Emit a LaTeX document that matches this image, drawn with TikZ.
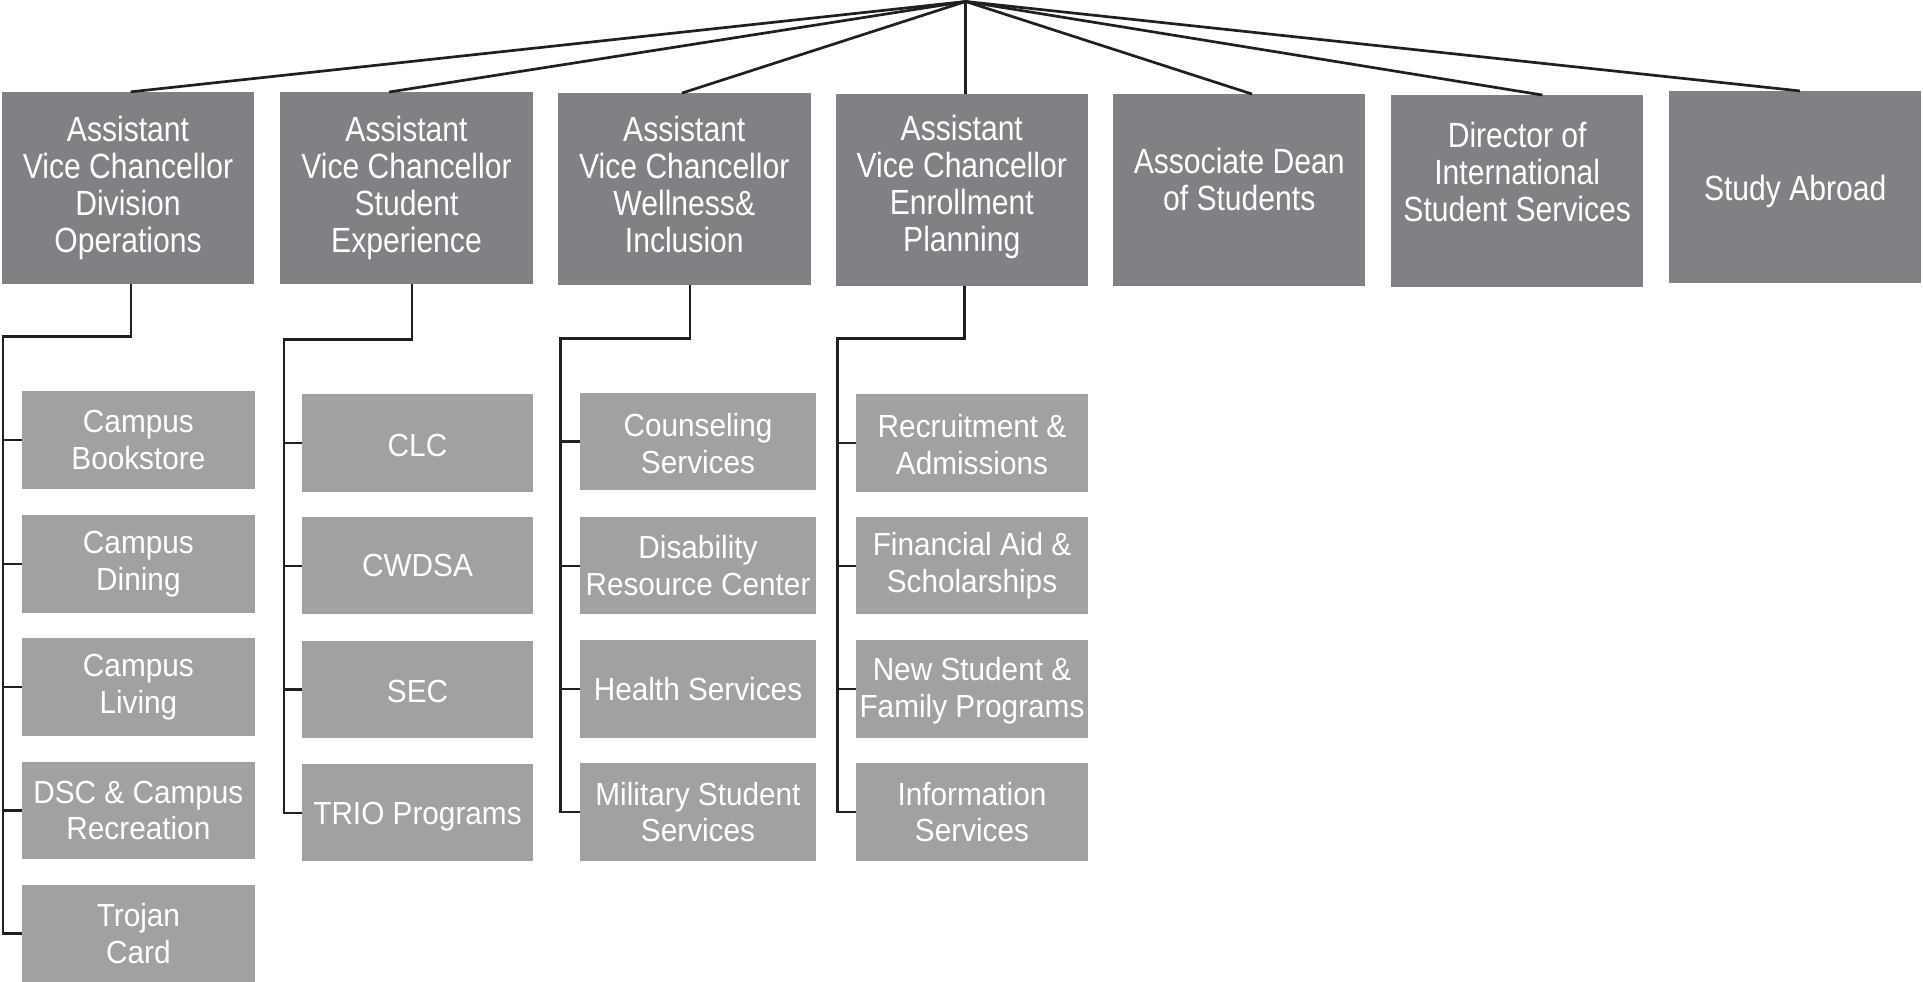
\documentclass[tikz,border=0pt]{standalone}
\usepackage{fontspec}
\newfontfamily\topfont[FakeStretch=0.86]{Liberation Sans}
\newfontfamily\subfont[FakeStretch=0.93]{Liberation Sans}
\definecolor{topgray}{RGB}{128,129,132}
\definecolor{subgray}{RGB}{161,161,163}
\definecolor{linecol}{RGB}{35,31,32}
\begin{document}
\begin{tikzpicture}[x=1pt,y=-1pt,
  topbox/.style={fill=topgray, text=white, inner sep=0pt, align=center,
    font=\topfont\fontsize{35}{37}\selectfont, minimum width=252.5pt, minimum height=191.5pt},
  subbox/.style={fill=subgray, text=white, inner sep=0pt, align=center,
    font=\subfont\fontsize{32}{36.7}\selectfont, minimum height=97.5pt},
  topline/.style={draw=linecol, line width=2.7pt},
  subline/.style={draw=linecol, line width=2.3pt}]
\useasboundingbox (0,0) rectangle (1923,982);

% top level
\coordinate (apex) at (965.7,1.5);
\node[topbox] (b1) at (128,187.8) {Assistant\\Vice Chancellor\\Division\\Operations};
\node[topbox] (b2) at (406.5,188) {Assistant\\Vice Chancellor\\Student\\Experience};
\node[topbox] (b3) at (684.3,189) {Assistant\\Vice Chancellor\\Wellness\&\\Inclusion\rule[-9pt]{0pt}{0pt}};
\node[topbox] (b4) at (961.8,190) {Assistant\\Vice Chancellor\\Enrollment\\Planning\rule[-12.5pt]{0pt}{0pt}};
\node[topbox] (b5) at (1239.2,190) {Associate Dean\\of Students\\[-16pt]\mbox{}};
\node[topbox] (b6) at (1517.2,191) {Director of\\International\\Student Services\\[2pt]\mbox{}};
\node[topbox] (b7) at (1795.2,186.9) {\rule{0pt}{35pt}Study Abroad};

\draw[topline] (apex) -- ([xshift=2.7pt]b1.north);
\draw[topline] (apex) -- ([xshift=-17.5pt]b2.north);
\draw[topline] (apex) -- ([xshift=-2.3pt]b3.north);
\draw[topline] (apex) -- ([xshift=3.9pt]b4.north);
\draw[topline] (apex) -- ([xshift=12.8pt]b5.north);
\draw[topline] (apex) -- ([xshift=25.3pt]b6.north);
\draw[topline] (apex) -- ([xshift=4.8pt]b7.north);

% column 1
\begin{scope}[every node/.style={subbox, minimum width=233pt}]
\node (c11) at (138.4,439.8) {Campus\\Bookstore};
\node (c12) at (138.4,563.8) {Campus\\Dining};
\node (c13) at (138.4,686.9) {Campus\\Living};
\node (c14) at (138.4,810.5) {DSC \& Campus\\Recreation};
\node (c15) at (138.4,933.4) {Trojan\\Card};
\end{scope}
\coordinate (bus1) at (3.1,336.4);
\draw[subline] ([xshift=2.9pt]b1.south) |- (bus1) -- (bus1 |- c15.west) -- (c15.west);
\foreach \c in {c11,c12,c13,c14} \draw[subline] (bus1 |- \c.west) -- (\c.west);

% column 2
\begin{scope}[every node/.style={subbox, minimum width=231pt}]
\node (c21) at (417.5,442.9) {\rule{0pt}{27pt}CLC};
\node (c22) at (417.5,565.7) {CWDSA};
\node (c23) at (417.5,689.6) {\rule{0pt}{27pt}SEC};
\node (c24) at (417.5,812.7) {\rule{0pt}{30pt}TRIO Programs};
\end{scope}
\coordinate (bus2) at (284,339.5);
\draw[subline] ([xshift=5.7pt]b2.south) |- (bus2) -- (bus2 |- c24.west) -- (c24.west);
\foreach \c in {c21,c22,c23} \draw[subline] (bus2 |- \c.west) -- (\c.west);

% column 3
\begin{scope}[every node/.style={subbox, minimum width=236pt}]
\node (c31) at (698,441.6) {\rule{0pt}{27pt}Counseling\\Services};
\node (c32) at (698,565.7) {Disability\\Resource Center};
\node (c33) at (698,688.9) {Health Services};
\node (c34) at (698,812) {Military Student\\Services};
\end{scope}
\coordinate (bus3) at (560.4,338.6);
\draw[subline] ([xshift=5.7pt]b3.south) |- (bus3) -- (bus3 |- c34.west) -- (c34.west);
\foreach \c in {c31,c32,c33} \draw[subline] (bus3 |- \c.west) -- (\c.west);

% column 4
\begin{scope}[every node/.style={subbox, minimum width=232pt}]
\node (c41) at (972,442.9) {\rule{0pt}{27pt}Recruitment \&\\Admissions};
\node (c42) at (972,565.7) {Financial Aid \&\\Scholarships};
\node (c43) at (972,688.9) {\rule{0pt}{27pt}New Student \&\\Family Programs};
\node (c44) at (972,812) {Information\\Services};
\end{scope}
\coordinate (bus4) at (837.5,338.6);
\draw[subline] ([xshift=2.8pt]b4.south) |- (bus4) -- (bus4 |- c44.west) -- (c44.west);
\foreach \c in {c41,c42,c43} \draw[subline] (bus4 |- \c.west) -- (\c.west);
\end{tikzpicture}
\end{document}
